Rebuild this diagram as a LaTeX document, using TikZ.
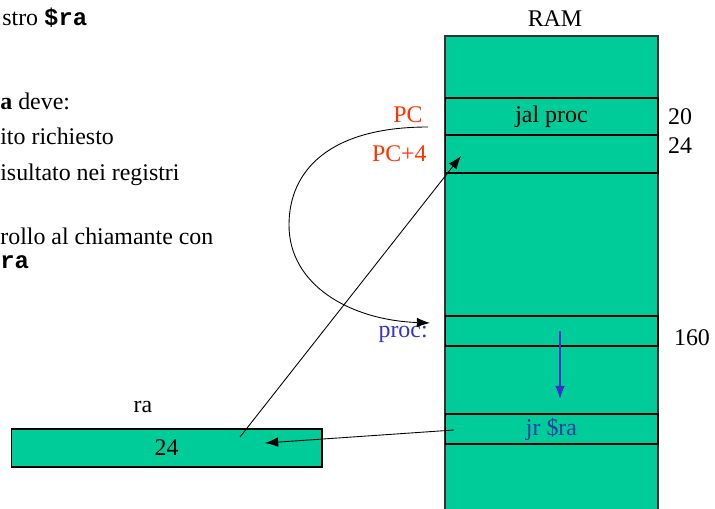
\documentclass[tikz,border=0pt]{standalone}
\usepackage{fontspec}
\setmainfont{Liberation Serif}
\setmonofont{Liberation Mono}
\usetikzlibrary{arrows.meta}
\definecolor{RamGreen}{RGB}{0,204,153}
\definecolor{PcRed}{RGB}{255,51,0}
\definecolor{ProcBlue}{RGB}{51,51,204}
\definecolor{JrBlue}{RGB}{30,60,165}
\tikzstyle{MemCell}=[rectangle, draw=black, fill=RamGreen, line width=0.6pt, inner sep=0pt, minimum width=4.26cm]
\tikzstyle{RegCell}=[MemCell, minimum width=6.22cm, minimum height=0.76cm]
\tikzstyle{Label}=[inner sep=0pt, anchor=base]
\tikzstyle{CallEdge}=[->, line width=0.5pt]
\tikzstyle{FlowEdge}=[->, line width=0.6pt, ProcBlue]
\tikzset{>={Latex[length=7.5pt,width=5.5pt]}}

\begin{document}
\begin{tikzpicture}[x=0.02cm, y=-0.02cm, font=\fontsize{13.6}{16}\selectfont]
\useasboundingbox (0,0) rectangle (715,509);
% memoria
\fill[RamGreen, draw=black!80, line width=0.6pt] (445,509) -- (445,36) -- (658,36) -- (658,509);
\node[Label](RAM) at (555,27) {RAM};
\node[MemCell, minimum height=0.74cm](Jal) at (551.5,116.5) {jal proc};
\node[MemCell, minimum height=0.76cm](Next) at (551.5,154) {};
\node[MemCell, minimum height=0.6cm](Proc) at (551.5,331) {};
\node[MemCell, minimum height=0.6cm, text=JrBlue](Jr) at (551.5,429) {jr \$ra};
\node[Label](A20) at (680,125) {20};
\node[Label](A24) at (680,154) {24};
\node[Label](A160) at (692,345) {160};
\node[Label, anchor=base east, text=PcRed](PC) at (423,123) {PC};
\node[Label, anchor=base east, text=PcRed](PC4) at (427,162) {PC+4};
\node[Label, anchor=base east, text=ProcBlue](ProcLbl) at (428,337) {proc:};
% registro
\node[RegCell](RA) at (166.5,448) {24};
\node[Label](RALbl) at (143,412) {ra};
% testo
\node[Label, anchor=base west](T1) at (2,26) {stro \texttt{\textbf{\$ra}}};
\node[Label, anchor=base west](T2) at (0,110) {\textbf{a} deve:};
\node[Label, anchor=base west](T3) at (0,145) {ito richiesto};
\node[Label, anchor=base west](T4) at (0,181) {isultato nei registri};
\node[Label, anchor=base west](T5) at (0,245) {rollo al chiamante con};
\node[Label, anchor=base west](T6) at (0,269) {\texttt{\textbf{ra}}};

\coordinate (CallOut) at (428,127);
\coordinate (CallIn) at (430,323);
\coordinate (RaOut) at (240,437);
\coordinate (RetIn) at (461,156);
\coordinate (JrOut) at (454,430);
\coordinate (RaIn) at (265,443);
\coordinate (BodyTop) at (560,331);
\coordinate (BodyEnd) at (560,399);

\draw[CallEdge](CallOut) .. controls (330,127) and (289,170) .. (289,225) .. controls (289,285) and (350,320) .. (CallIn);
\draw[CallEdge](RaOut) -- (RetIn);
\draw[CallEdge](JrOut) -- (RaIn);
\draw[FlowEdge](BodyTop) -- (BodyEnd);
\end{tikzpicture}
\end{document}
